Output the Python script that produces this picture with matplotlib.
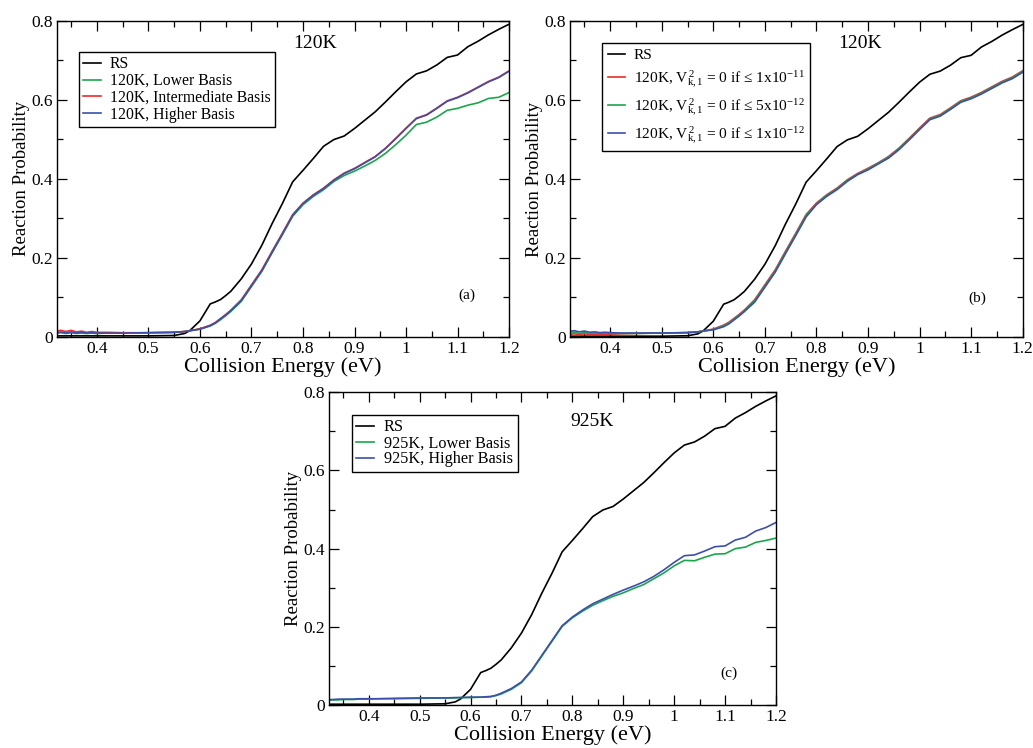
import matplotlib
matplotlib.use("Agg")
import matplotlib.pyplot as plt
from matplotlib.ticker import MultipleLocator, FuncFormatter

plt.rcParams['font.family'] = ['Liberation Serif', 'DejaVu Serif']
plt.rcParams['mathtext.fontset'] = 'custom'
plt.rcParams['mathtext.rm'] = 'Liberation Serif'
plt.rcParams['mathtext.it'] = 'Liberation Serif:italic'

# ---------------- data ----------------
energy = [0.32, 0.33, 0.34, 0.35, 0.36, 0.37, 0.38, 0.39, 0.40, 0.42, 0.45, 0.50, 0.55,
          0.57, 0.58, 0.60, 0.62, 0.63, 0.64, 0.65, 0.66, 0.68, 0.70, 0.72, 0.74, 0.76,
          0.78, 0.80, 0.82, 0.84, 0.86, 0.88, 0.90, 0.92, 0.94, 0.96, 0.98, 1.00, 1.02,
          1.04, 1.06, 1.08, 1.10, 1.12, 1.14, 1.16, 1.18, 1.20]

rs = [0.002, 0.002, 0.002, 0.002, 0.002, 0.002, 0.002, 0.002, 0.002, 0.002, 0.002, 0.002, 0.003,
      0.008, 0.015, 0.040, 0.083, 0.088, 0.094, 0.104, 0.115, 0.146, 0.184, 0.231, 0.286, 0.337,
      0.392, 0.421, 0.451, 0.482, 0.499, 0.508, 0.527, 0.548, 0.569, 0.594, 0.620, 0.645, 0.665,
      0.673, 0.688, 0.707, 0.713, 0.734, 0.748, 0.764, 0.778, 0.791]

# panel (a), 120K
a_lower = [0.008, 0.010, 0.008, 0.010, 0.008, 0.009, 0.008, 0.009, 0.008, 0.009, 0.009, 0.010, 0.011,
           0.013, 0.015, 0.019, 0.027, 0.034, 0.043, 0.053, 0.064, 0.089, 0.127, 0.165, 0.212, 0.258,
           0.305, 0.334, 0.355, 0.372, 0.393, 0.408, 0.419, 0.432, 0.446, 0.464, 0.486, 0.510, 0.537,
           0.543, 0.556, 0.573, 0.578, 0.586, 0.592, 0.603, 0.606, 0.618]
a_inter = [0.014, 0.016, 0.013, 0.016, 0.012, 0.014, 0.011, 0.013, 0.011, 0.011, 0.010, 0.010, 0.011,
           0.013, 0.015, 0.020, 0.029, 0.036, 0.046, 0.056, 0.067, 0.093, 0.131, 0.169, 0.216, 0.262,
           0.309, 0.338, 0.359, 0.376, 0.397, 0.414, 0.426, 0.441, 0.456, 0.477, 0.502, 0.528, 0.553,
           0.562, 0.579, 0.597, 0.606, 0.618, 0.632, 0.646, 0.657, 0.673]
a_higher = [0.010, 0.012, 0.009, 0.012, 0.009, 0.011, 0.009, 0.010, 0.009, 0.009, 0.009, 0.010, 0.011,
            0.013, 0.015, 0.019, 0.028, 0.035, 0.045, 0.055, 0.066, 0.091, 0.129, 0.167, 0.214, 0.260,
            0.307, 0.337, 0.358, 0.375, 0.396, 0.413, 0.425, 0.440, 0.455, 0.476, 0.501, 0.527, 0.552,
            0.561, 0.578, 0.596, 0.605, 0.617, 0.631, 0.645, 0.656, 0.672]

# panel (b), 120K cutoffs
b_1e11 = [0.006, 0.008, 0.006, 0.008, 0.006, 0.007, 0.006, 0.007, 0.007, 0.008, 0.009, 0.010, 0.011,
          0.013, 0.015, 0.020, 0.030, 0.037, 0.047, 0.057, 0.068, 0.094, 0.132, 0.170, 0.217, 0.263,
          0.310, 0.339, 0.360, 0.377, 0.398, 0.414, 0.427, 0.441, 0.457, 0.478, 0.503, 0.529, 0.554,
          0.563, 0.580, 0.598, 0.607, 0.619, 0.633, 0.647, 0.658, 0.674]
b_5e12 = [0.010, 0.012, 0.009, 0.011, 0.009, 0.010, 0.009, 0.010, 0.009, 0.009, 0.009, 0.010, 0.011,
          0.013, 0.015, 0.019, 0.028, 0.035, 0.045, 0.055, 0.066, 0.091, 0.129, 0.167, 0.214, 0.260,
          0.307, 0.337, 0.358, 0.375, 0.396, 0.412, 0.425, 0.440, 0.455, 0.476, 0.501, 0.527, 0.552,
          0.561, 0.578, 0.596, 0.605, 0.617, 0.631, 0.645, 0.656, 0.672]
b_1e12 = [0.014, 0.016, 0.013, 0.015, 0.012, 0.013, 0.011, 0.012, 0.011, 0.010, 0.010, 0.010, 0.011,
          0.013, 0.015, 0.018, 0.026, 0.033, 0.043, 0.053, 0.064, 0.088, 0.126, 0.164, 0.211, 0.257,
          0.304, 0.335, 0.356, 0.373, 0.394, 0.411, 0.423, 0.438, 0.453, 0.474, 0.499, 0.525, 0.550,
          0.559, 0.576, 0.594, 0.603, 0.615, 0.629, 0.643, 0.654, 0.670]

# panel (c), 925K
c_lower = [0.012, 0.013, 0.013, 0.014, 0.014, 0.014, 0.015, 0.015, 0.015, 0.016, 0.016, 0.017, 0.018,
           0.018, 0.019, 0.019, 0.020, 0.020, 0.021, 0.024, 0.028, 0.040, 0.057, 0.087, 0.125, 0.163,
           0.201, 0.223, 0.240, 0.255, 0.267, 0.278, 0.287, 0.298, 0.308, 0.323, 0.338, 0.356, 0.370,
           0.369, 0.378, 0.386, 0.387, 0.400, 0.404, 0.416, 0.421, 0.427]
c_higher = [0.014, 0.014, 0.015, 0.015, 0.015, 0.015, 0.016, 0.016, 0.016, 0.016, 0.017, 0.018, 0.018,
            0.019, 0.019, 0.020, 0.020, 0.021, 0.022, 0.025, 0.030, 0.042, 0.059, 0.089, 0.127, 0.165,
            0.203, 0.225, 0.243, 0.259, 0.271, 0.283, 0.294, 0.304, 0.315, 0.329, 0.346, 0.365, 0.382,
            0.384, 0.394, 0.405, 0.407, 0.422, 0.429, 0.445, 0.454, 0.467]

labels_a = ['RS', '120K, Lower Basis', '120K, Intermediate Basis', '120K, Higher Basis']
labels_b = ['RS',
            r'120K, V$_{\mathrm{k,1}}^{\,2}$ = 0 if ≤ 1x10$^{-11}$',
            r'120K, V$_{\mathrm{k,1}}^{\,2}$ = 0 if ≤ 5x10$^{-12}$',
            r'120K, V$_{\mathrm{k,1}}^{\,2}$ = 0 if ≤ 1x10$^{-12}$']
labels_c = ['RS', '925K, Lower Basis', '925K, Higher Basis']

BLACK = '#000000'
GREEN = '#1aa64a'
RED = '#f02a2a'
BLUE = '#3b50ad'

# ---------------- figure ----------------
fig = plt.figure(figsize=(10.33, 7.48), dpi=100)
ax_a = fig.add_axes([0.0549, 0.5499, 0.4379, 0.4225])
ax_b = fig.add_axes([0.5518, 0.5495, 0.4382, 0.4225])
ax_c = fig.add_axes([0.3185, 0.0575, 0.4327, 0.4180])

lw = 1.2

def style(ax, xpad=0):
    ax.set_xlim(0.322, 1.2)
    ax.set_ylim(0, 0.8)
    ax.xaxis.set_major_locator(MultipleLocator(0.1))
    ax.xaxis.set_minor_locator(MultipleLocator(0.05))
    ax.yaxis.set_major_locator(MultipleLocator(0.2))
    ax.yaxis.set_minor_locator(MultipleLocator(0.1))
    fmt = FuncFormatter(lambda v, p: ('%g' % round(v, 3)))
    ax.xaxis.set_major_formatter(fmt)
    ax.yaxis.set_major_formatter(fmt)
    ax.tick_params(which='both', direction='in', top=True, right=True, labelsize=12.5,
                   width=0.9, pad=3)
    ax.tick_params(which='major', length=7)
    ax.tick_params(which='minor', length=4)
    for s in ax.spines.values():
        s.set_linewidth(1.0)
    ax.set_xlabel('Collision Energy (eV)', fontsize=16, labelpad=xpad)
    ax.set_ylabel('Reaction Probability', fontsize=13.5, labelpad=1)

def legend(ax, x, y, fs, ls, bp):
    leg = ax.legend(loc='upper left', bbox_to_anchor=(x, y), fontsize=fs, frameon=True,
                    fancybox=False, edgecolor='black', framealpha=1, handlelength=1.1,
                    handletextpad=0.6, borderpad=bp, labelspacing=ls, borderaxespad=0)
    leg.get_frame().set_linewidth(1.0)
    return leg

# (a)
ax_a.plot(energy, rs, color=BLACK, lw=lw, label=labels_a[0])
ax_a.plot(energy, a_lower, color=GREEN, lw=lw, label=labels_a[1])
ax_a.plot(energy, a_inter, color=RED, lw=lw, label=labels_a[2])
ax_a.plot(energy, a_higher, color=BLUE, lw=lw, label=labels_a[3])
style(ax_a)
legend(ax_a, 0.049, 0.901, 11.3, 0.05, 0.28)
ax_a.text(0.571, 0.929, '120K', transform=ax_a.transAxes, ha='center', va='center', fontsize=14)
ax_a.text(0.907, 0.132, '(a)', transform=ax_a.transAxes, ha='center', va='center', fontsize=11)

# (b)
ax_b.plot(energy, rs, color=BLACK, lw=lw, label=labels_b[0])
ax_b.plot(energy, b_1e11, color=RED, lw=lw, label=labels_b[1])
ax_b.plot(energy, b_5e12, color=GREEN, lw=lw, label=labels_b[2])
ax_b.plot(energy, b_1e12, color=BLUE, lw=lw, label=labels_b[3])
style(ax_b)
legend(ax_b, 0.071, 0.930, 11.1, 0.38, 0.35)
ax_b.text(0.64, 0.929, '120K', transform=ax_b.transAxes, ha='center', va='center', fontsize=14)
ax_b.text(0.899, 0.123, '(b)', transform=ax_b.transAxes, ha='center', va='center', fontsize=11)

# (c)
ax_c.plot(energy, rs, color=BLACK, lw=lw, label=labels_c[0])
ax_c.plot(energy, c_lower, color=GREEN, lw=lw, label=labels_c[1])
ax_c.plot(energy, c_higher, color=BLUE, lw=lw, label=labels_c[2])
style(ax_c, xpad=0)
legend(ax_c, 0.051, 0.928, 11.7, 0.0, 0.28)
ax_c.text(0.588, 0.906, '925K', transform=ax_c.transAxes, ha='center', va='center', fontsize=14)
ax_c.text(0.895, 0.101, '(c)', transform=ax_c.transAxes, ha='center', va='center', fontsize=11)

fig.savefig('out.png', dpi=100)
